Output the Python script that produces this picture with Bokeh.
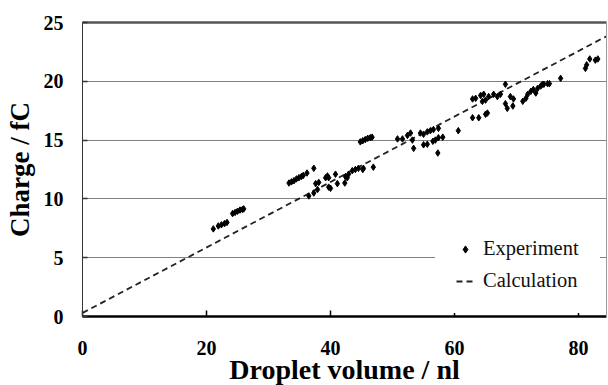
from bokeh.plotting import figure
from bokeh.models import (LinearAxis, FixedTicker, Range1d, Title, Legend, LegendItem)
from bokeh.embed import file_html
from bokeh.resources import INLINE

# ---- data ----
exp_x = [21.1, 21.9, 22.4, 22.9, 23.3,
         24.2, 24.6, 25.0, 25.4, 25.8, 26.0,
         33.3, 33.7, 34.1, 34.5, 34.9, 35.3, 35.6, 36.2, 37.3,
         36.5, 37.3, 37.9, 37.6, 38.1, 39.2, 39.5, 39.7, 39.7, 40.0, 40.8, 41.1,
         42.3, 42.4, 42.9, 42.7, 43.5, 44.0, 44.5, 45.2, 45.3, 46.9,
         44.8, 45.2, 45.6, 46.0, 46.4, 46.7,
         50.8, 51.6, 52.4, 52.9, 53.2, 53.4,
         54.5, 55.0, 55.6, 56.1, 56.6, 57.4, 55.0, 55.6, 56.5, 56.9, 57.4, 58.1, 57.3, 60.6,
         62.9, 63.9, 65.0, 65.3, 62.9, 63.4, 64.2, 64.7, 64.5, 65.0, 65.5, 66.3, 66.9, 67.4, 68.2,
         68.2, 68.5, 69.4, 69.5, 69.0, 71.0, 71.5, 71.8, 72.3, 72.7, 73.1, 73.4, 73.9, 74.2,
         74.4, 75.0, 75.3, 77.1,
         81.1, 81.3, 81.8, 82.7, 83.1]
exp_y = [7.45, 7.7, 7.8, 7.9, 8.0,
         8.75, 8.85, 8.95, 9.05, 9.1, 9.15,
         11.35, 11.45, 11.55, 11.7, 11.8, 11.9, 12.0, 12.2, 12.6,
         10.25, 10.5, 10.8, 11.3, 11.4, 11.8, 11.95, 11.8, 11.0, 10.9, 12.1, 11.3,
         11.35, 11.9, 12.1, 11.8, 12.4, 12.5, 12.6, 12.5, 12.6, 12.7,
         14.85, 14.95, 15.05, 15.15, 15.2, 15.25,
         15.1, 15.1, 15.4, 15.6, 15.0, 14.3,
         15.6, 15.5, 15.7, 15.8, 15.9, 16.0, 14.6, 14.65, 14.9, 15.0, 15.2, 15.25, 13.9, 15.8,
         16.9, 16.9, 17.2, 17.3, 18.5, 18.55, 18.8, 18.9, 18.3, 18.4, 18.7, 18.9, 18.7, 18.9, 19.75,
         18.1, 17.7, 17.9, 18.5, 18.7, 18.3, 18.55, 18.9, 19.15, 19.3, 19.0, 19.4, 19.6, 19.75,
         19.75, 19.8, 19.8, 20.25,
         21.1, 21.4, 21.9, 21.8, 21.9]
calc_x = [0, 85]
calc_y = [0.3, 23.97]

x_ticks = [0, 20, 40, 60, 80]
y_ticks = [0, 5, 10, 15, 20, 25]
grid_y = [5, 10, 15, 20]
x_title = "Droplet volume / nl"
y_title = "Charge / fC"

SERIF = "Liberation Serif"

p = figure(width=608, height=385, output_backend="svg", toolbar_location=None,
           x_range=Range1d(0, 84.5), y_range=Range1d(0, 25),
           min_border_left=82, min_border_right=2, min_border_top=22,
           min_border_bottom=69, background_fill_color="white",
           border_fill_color="white")
p.outline_line_color = None

# grid
p.xgrid.visible = False
p.ygrid.ticker = FixedTicker(ticks=grid_y)
p.ygrid.grid_line_color = "#808080"
p.ygrid.grid_line_width = 1.2

# x axis
xa = p.xaxis[0]
xa.ticker = FixedTicker(ticks=x_ticks)
xa.axis_line_color = "black"
xa.axis_line_width = 2.5
xa.major_tick_in = 6
xa.major_tick_out = 0
xa.major_tick_line_color = "black"
xa.major_tick_line_width = 1.5
xa.minor_tick_line_color = None
xa.major_label_standoff = 24
xa.major_label_text_font = SERIF
xa.major_label_text_font_style = "bold"
xa.major_label_text_font_size = "20px"
xa.major_label_text_color = "black"

# y axis
ya = p.yaxis[0]
ya.ticker = FixedTicker(ticks=y_ticks)
ya.axis_line_color = "#333333"
ya.axis_line_width = 1
ya.major_tick_in = 5
ya.major_tick_out = 0
ya.major_tick_line_color = "#333333"
ya.major_tick_line_width = 1.5
ya.minor_tick_line_color = None
ya.major_label_standoff = 19
ya.major_label_text_font = SERIF
ya.major_label_text_font_style = "bold"
ya.major_label_text_font_size = "20px"
ya.major_label_text_color = "black"
ya.axis_label = y_title
ya.axis_label_text_font = SERIF
ya.axis_label_text_font_style = "bold"
ya.axis_label_text_font_size = "27px"
ya.axis_label_text_color = "black"
ya.axis_label_standoff = 6

# top and right frame lines
top = LinearAxis(ticker=FixedTicker(ticks=[]), axis_line_color="#555555",
                 axis_line_width=2.5, major_label_text_font_size="0px",
                 minor_tick_line_color=None, major_tick_line_color=None)
p.add_layout(top, "above")
right = LinearAxis(ticker=FixedTicker(ticks=[]), axis_line_color="#9a9a9a",
                   axis_line_width=1, major_label_text_font_size="0px",
                   minor_tick_line_color=None, major_tick_line_color=None)
p.add_layout(right, "right")

# data
r_calc = p.line(calc_x, calc_y, line_color="#222222", line_width=1.8,
                line_dash="6 4")
r_exp = p.scatter(exp_x, exp_y, marker="diamond", size=6.5,
                  fill_color="black", line_color="black")

# x axis title as a title panel below the axis
p.add_layout(Title(text=x_title, align="center", text_font=SERIF,
                   text_font_style="bold", text_font_size="28px",
                   text_color="black", standoff=-12), "below")

legend = Legend(items=[LegendItem(label="Experiment", renderers=[r_exp]),
                       LegendItem(label="Calculation", renderers=[r_calc])],
                location=(353, 3), margin=0, padding=20, spacing=9,
                glyph_width=18, glyph_height=22, label_height=22,
                label_standoff=9, label_text_font=SERIF,
                label_text_font_size="20.5px", label_text_color="#111111",
                background_fill_color="white", background_fill_alpha=1.0,
                border_line_color="white", border_line_width=1)
p.add_layout(legend)

open("out.html", "w").write(file_html(p, INLINE))
